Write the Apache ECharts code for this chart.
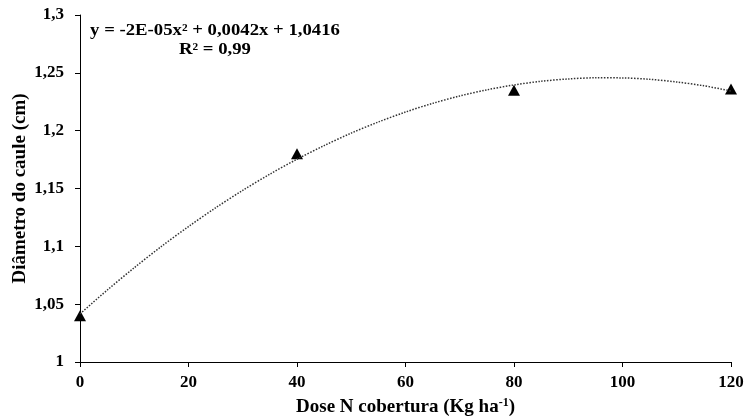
<!DOCTYPE html>
<html><head><meta charset="utf-8">
<script src="https://cdn.jsdelivr.net/npm/echarts@6/dist/echarts.min.js"></script>
<style>html,body{margin:0;padding:0;background:#fff}#c{width:746px;height:417px}</style>
</head><body><div id="c"></div>
<script>
var doses = [0, 40, 80, 120];
var diametro = [1.04, 1.18, 1.235, 1.236];
var curveX = [0, 5, 10, 15, 20, 25, 30, 35, 40, 45, 50, 55, 60, 65, 70, 75, 80, 85, 90, 95, 100, 105, 110, 115, 120];
var curveY = [1.0416, 1.0621, 1.0815, 1.0999, 1.1171, 1.1333, 1.1484, 1.1624, 1.1753, 1.1871, 1.1979, 1.2075, 1.2161, 1.2236, 1.2300, 1.2353, 1.2395, 1.2427, 1.2447, 1.2457, 1.2456, 1.2444, 1.2421, 1.2388, 1.2343];
var equationText = 'y = -2E-05x² + 0,0042x + 1,0416';
var r2Text = 'R² = 0,99';

var font = 'Liberation Serif';
var chart = echarts.init(document.getElementById('c'));
chart.setOption({
  animation: false,
  grid: {left: 80, right: 15, top: 15, bottom: 55, containLabel: false, outerBoundsMode: 'none'},
  xAxis: {
    type: 'value', min: 0, max: 120, interval: 20,
    axisLine: {lineStyle: {color: '#000', width: 1}},
    axisTick: {show: true, length: 5, lineStyle: {color: '#000'}},
    splitLine: {show: false},
    axisLabel: {color: '#000', fontFamily: font, fontWeight: 'bold', fontSize: 17, margin: 12},
    name: '{a|Dose N cobertura (Kg ha}{s|-1}{a|)}',
    nameLocation: 'middle', nameGap: 35, nameMoveOverlap: false,
    nameTextStyle: {rich: {
      a: {fontFamily: font, fontWeight: 'bold', fontSize: 19, color: '#000'},
      s: {fontFamily: font, fontWeight: 'bold', fontSize: 12, color: '#000', verticalAlign: 'top', padding: [0,0,8,0]}
    }}
  },
  yAxis: {
    type: 'value', min: 1, max: 1.3, interval: 0.05,
    axisLine: {show: true, lineStyle: {color: '#000', width: 1}},
    axisTick: {show: true, length: 5, lineStyle: {color: '#000'}},
    splitLine: {show: false},
    axisLabel: {color: '#000', fontFamily: font, fontWeight: 'bold', fontSize: 17, margin: 16,
      formatter: function (v) { return String(parseFloat(v.toFixed(2))).replace('.', ','); }},
    name: 'Diâmetro do caule (cm)', nameLocation: 'middle', nameGap: 50, nameMoveOverlap: false,
    nameTextStyle: {color: '#000', fontFamily: font, fontWeight: 'bold', fontSize: 19}
  },
  series: [
    {
      type: 'line', data: curveX.map(function (x, i) { return [x, curveY[i]]; }),
      smooth: 0.3, symbol: 'none',
      lineStyle: {color: '#333', width: 1.5, type: [1.5, 1.5]}
    },
    {
      type: 'scatter', data: doses.map(function (x, i) { return [x, diametro[i]]; }),
      symbol: 'triangle', symbolSize: [12, 11],
      itemStyle: {color: '#000', opacity: 1}
    }
  ],
  graphic: [
    {type: 'text', x: 215, y: 23, scaleX: 1.17, style: {text: equationText, fill: '#000', textAlign: 'center', font: 'bold 16px "Liberation Serif"'}},
    {type: 'text', x: 215, y: 42, scaleX: 1.17, style: {text: r2Text, fill: '#000', textAlign: 'center', font: 'bold 16px "Liberation Serif"'}}
  ]
});
</script></body></html>
